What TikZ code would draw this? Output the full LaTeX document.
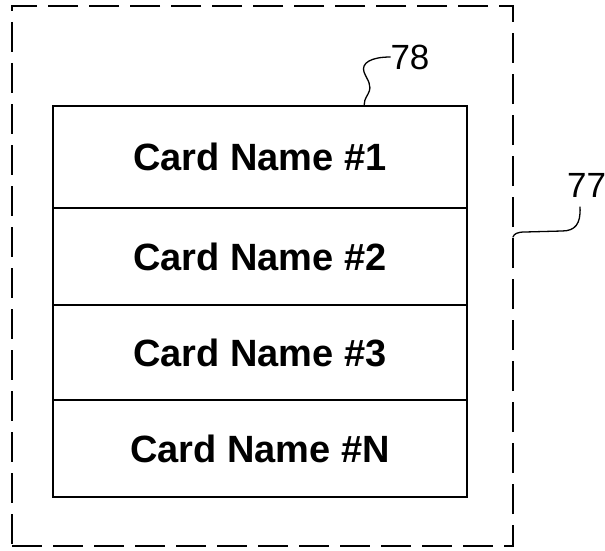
\documentclass[tikz,border=0pt]{standalone}
\usepackage{fontspec}
\setmainfont{Liberation Sans}
\usetikzlibrary{positioning}
\tikzset{card/.style={draw, line width=1.8pt, minimum width=414pt, inner sep=0pt, font=\fontsize{38}{44}\selectfont\bfseries},
  panel/.style={draw, line width=1.6pt, dash pattern=on 30pt off 11pt},
  refnum/.style={font=\fontsize{35}{40}\selectfont, inner sep=0pt},
  leader/.style={line width=1.3pt, line cap=round}}

\begin{document}
\begin{tikzpicture}[x=1pt,y=1pt]
   \useasboundingbox (0,0) rectangle (605,-551);
   \node[panel, minimum width=501pt, minimum height=540pt] (frame) at (262.5,-276) {};
   \node[card, minimum height=102pt] (card1) at (260,-157)   {Card Name \#1};
   \node[card, minimum height=97pt]  (card2) at (260,-256.5) {Card Name \#2};
   \node[card, minimum height=95pt]  (card3) at (260,-352.5) {Card Name \#3};
   \node[card, minimum height=97pt]  (cardN) at (260,-448.5) {Card Name \#N};
   \node[refnum] (lbl78) at (410,-57) {78};
   \node[refnum, anchor=west] (lbl77) at (567,-185) {77};
   \coordinate (tip78) at (364,-106);
   \coordinate (tip77) at (513,-237);
   \draw[leader]
     (lbl78.west) .. controls (371,-57) and (361,-63) ..
     (364,-72)    .. controls (367,-80) and (373,-85) ..
     (368,-94)    .. controls (365,-99) and (364,-102) .. (tip78);
   \draw[leader]
     (580,-207)   .. controls (581,-224) and (575,-231) ..
     (562,-231)   -- (525,-232) .. controls (517,-232) and (514,-234) .. (tip77);
\end{tikzpicture}
\end{document}
